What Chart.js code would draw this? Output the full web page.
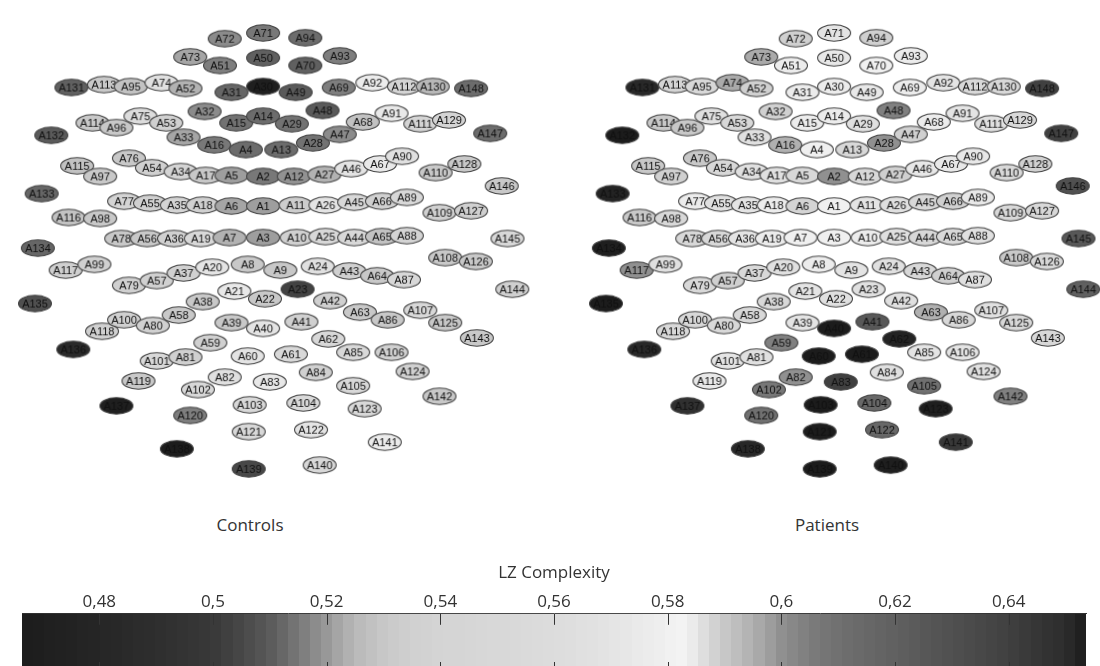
<!DOCTYPE html>
<html>
<head>
<meta charset="utf-8">
<script src="https://cdn.jsdelivr.net/npm/chart.js@4"></script>
<style>
html,body{margin:0;padding:0;background:#fff;}
body{width:1100px;height:666px;overflow:hidden;position:relative;}
canvas{position:absolute;}
.grp{position:absolute;top:514px;transform:translateX(-50%);font:17px "Open Sans",sans-serif;color:#333;line-height:22px;white-space:nowrap;}
</style>
</head>
<body>
<canvas id="controls" width="530" height="500" style="left:0;top:0"></canvas>
<canvas id="patients" width="530" height="500" style="left:571px;top:0"></canvas>
<div class="grp" style="left:250px">Controls</div>
<div class="grp" style="left:827px">Patients</div>
<canvas id="cbar" width="1100" height="110" style="left:0;top:563px"></canvas>
<script>
// ---------- DATA ----------
const electrodes = ['A1','A2','A3','A4','A5','A6','A7','A8','A9','A10',
'A11','A12','A13','A14','A15','A16','A17','A18','A19','A20',
'A21','A22','A23','A24','A25','A26','A27','A28','A29','A30',
'A31','A32','A33','A34','A35','A36','A37','A38','A39','A40',
'A41','A42','A43','A44','A45','A46','A47','A48','A49','A50',
'A51','A52','A53','A54','A55','A56','A57','A58','A59','A60',
'A61','A62','A63','A64','A65','A66','A67','A68','A69','A70',
'A71','A72','A73','A74','A75','A76','A77','A78','A79','A80',
'A81','A82','A83','A84','A85','A86','A87','A88','A89','A90',
'A91','A92','A93','A94','A95','A96','A97','A98','A99','A100',
'A101','A102','A103','A104','A105','A106','A107','A108','A109','A110',
'A111','A112','A113','A114','A115','A116','A117','A118','A119','A120',
'A121','A122','A123','A124','A125','A126','A127','A128','A129','A130',
'A131','A132','A133','A134','A135','A136','A137','A138','A139','A140',
'A141','A142','A143','A144','A145','A146','A147','A148'];

// sensor layout (montage units, A1 at origin, +y = front)
const posX = [0,0,0,-18,-33,-33,-35,-16,18,35,
34,32,19,0,-28,-51,-60,-63,-65,-53,
-30,2,36,57,65,65,64,52,30,0,
-33,-61,-83,-86,-90,-93,-83,-63,-33,0,
40,70,90,95,95,92,80,62,34,0,
-45,-81,-101,-116,-118,-121,-111,-88,-55,-16,
29,68,101,119,124,124,122,104,79,44,
0,-40,-76,-106,-128,-140,-145,-148,-140,-115,
-81,-40,7,55,94,130,147,150,150,145,
134,114,80,44,-138,-153,-170,-170,-176,-145,
-111,-68,-14,42,94,134,164,190,184,180,
164,147,-166,-178,-194,-203,-206,-168,-130,-76,
-15,50,106,156,190,222,217,210,194,177,
-200,-221,-231,-235,-238,-198,-153,-90,-15,59,
127,184,223,260,255,249,237,217];
const posY = [0,31,-33,59,32,0,-33,-61,-67,-33,
1,31,59,94,87,64,32,1,-34,-64,
-89,-97,-87,-63,-32,1,33,66,86,125,
119,99,72,36,1,-34,-70,-100,-122,-128,
-121,-99,-68,-33,4,39,75,100,119,155,
147,123,87,40,3,-34,-78,-114,-143,-157,
-155,-139,-111,-73,-32,5,44,88,124,147,
181,175,156,129,94,50,5,-34,-83,-125,
-158,-179,-184,-174,-153,-119,-77,-31,9,52,
97,129,157,176,125,82,31,-13,-61,-119,
-162,-192,-208,-206,-188,-153,-109,-54,-7,35,
86,125,127,87,42,-12,-67,-131,-183,-219,
-236,-234,-212,-173,-122,-58,-5,44,90,125,
124,74,13,-44,-102,-150,-209,-254,-275,-271,
-247,-199,-138,-87,-34,21,76,123];

// LZ complexity per electrode
const controlsLZ = [0.521,0.515,0.521,0.513,0.521,0.522,0.524,0.530,0.530,0.535,
0.533,0.519,0.513,0.513,0.514,0.515,0.530,0.535,0.550,0.570,
0.573,0.530,0.503,0.565,0.550,0.570,0.524,0.514,0.514,0.470,
0.512,0.518,0.522,0.540,0.540,0.535,0.535,0.530,0.530,0.570,
0.535,0.535,0.535,0.550,0.550,0.570,0.518,0.510,0.510,0.511,
0.516,0.524,0.535,0.535,0.535,0.530,0.535,0.530,0.535,0.570,
0.550,0.550,0.530,0.530,0.528,0.535,0.573,0.528,0.516,0.511,
0.515,0.518,0.522,0.565,0.560,0.530,0.540,0.530,0.535,0.535,
0.535,0.565,0.573,0.535,0.550,0.530,0.550,0.540,0.550,0.565,
0.573,0.577,0.516,0.513,0.528,0.530,0.530,0.530,0.535,0.535,
0.550,0.550,0.550,0.550,0.550,0.535,0.550,0.530,0.535,0.530,
0.540,0.540,0.530,0.530,0.528,0.528,0.535,0.535,0.530,0.516,
0.550,0.570,0.550,0.535,0.530,0.530,0.535,0.530,0.540,0.525,
0.511,0.510,0.512,0.512,0.507,0.485,0.470,0.466,0.505,0.550,
0.577,0.530,0.530,0.535,0.550,0.530,0.513,0.513];
const patientsLZ = [0.580,0.600,0.580,0.580,0.550,0.540,0.580,0.577,0.570,0.577,
0.570,0.550,0.550,0.577,0.577,0.595,0.565,0.577,0.577,0.565,
0.570,0.565,0.565,0.565,0.565,0.565,0.535,0.600,0.565,0.577,
0.577,0.535,0.565,0.565,0.570,0.570,0.550,0.550,0.570,0.6536,
0.625,0.565,0.550,0.550,0.550,0.573,0.535,0.604,0.573,0.573,
0.577,0.535,0.550,0.550,0.565,0.550,0.535,0.550,0.604,0.6536,
0.6536,0.652,0.595,0.535,0.550,0.535,0.573,0.577,0.577,0.580,
0.570,0.535,0.596,0.596,0.565,0.530,0.577,0.550,0.550,0.550,
0.565,0.600,0.640,0.565,0.570,0.550,0.565,0.565,0.573,0.573,
0.570,0.570,0.577,0.535,0.550,0.530,0.535,0.550,0.565,0.550,
0.570,0.607,0.6536,0.615,0.610,0.570,0.565,0.530,0.550,0.550,
0.565,0.550,0.540,0.530,0.530,0.530,0.600,0.550,0.573,0.610,
0.6536,0.615,0.653,0.565,0.550,0.550,0.550,0.535,0.550,0.550,
0.651,0.6536,0.652,0.653,0.6536,0.651,0.648,0.651,0.6536,0.653,
0.644,0.604,0.550,0.620,0.625,0.630,0.640,0.640];

// colour map (value -> gray level)
const cmapValues = [0.4664,0.48,0.49,0.50,0.505,0.51,0.515,0.52,0.525,0.53,0.535,0.54,0.55,0.56,0.57,0.58,0.583,0.586,0.59,0.595,0.60,0.605,0.61,0.62,0.63,0.64,0.65,0.6536];
const cmapGrays  = [28,38,46,56,72,90,120,152,184,200,208,212,216,220,228,240,244,224,200,176,144,124,112,96,80,64,44,28];
const cbMin = 0.4664, cbMax = 0.6536, cbBands = 96;
const tickValues = [0.48,0.50,0.52,0.54,0.56,0.58,0.60,0.62,0.64];
const tickLabels = ['0,48','0,5','0,52','0,54','0,56','0,58','0,6','0,62','0,64'];
const cbTitle = 'LZ Complexity';

// ---------- HELPERS ----------
function cmapGray(v){
  if (v <= cmapValues[0]) return cmapGrays[0];
  for (let i = 1; i < cmapValues.length; i++){
    if (v <= cmapValues[i]){
      const t = (v - cmapValues[i-1]) / (cmapValues[i] - cmapValues[i-1]);
      return Math.round(cmapGrays[i-1] + t * (cmapGrays[i] - cmapGrays[i-1]));
    }
  }
  return cmapGrays[cmapGrays.length-1];
}
function grayCss(g){ return 'rgb(' + g + ',' + g + ',' + g + ')'; }

function ellipseStyle(label, value){
  const c = document.createElement('canvas');
  c.width = 36; c.height = 20;
  const x = c.getContext('2d');
  x.beginPath();
  x.ellipse(18, 10, 16.5, 8.2, 0, 0, Math.PI * 2);
  x.fillStyle = grayCss(cmapGray(value));
  x.fill();
  x.lineWidth = 1.1;
  x.strokeStyle = '#444';
  x.stroke();
  x.fillStyle = '#111';
  x.font = '11px "Liberation Sans", Arial, sans-serif';
  x.textAlign = 'center';
  x.textBaseline = 'middle';
  x.fillText(label, 18, 10.5);
  return c;
}

function buildMap(id, values){
  const order = electrodes.map((_, i) => i).sort((a, b) => posX[a] - posX[b]);
  const pts = order.map(i => ({x: posX[i], y: posY[i]}));
  const styles = order.map(i => ellipseStyle(electrodes[i], values[i]));
  return new Chart(document.getElementById(id), {
    type: 'scatter',
    data: { datasets: [{
      data: pts,
      pointStyle: ctx => styles[ctx.dataIndex] || 'circle',
      pointRadius: 10,
      clip: false
    }]},
    options: {
      responsive: false, animation: false, events: [],
      layout: { padding: 0 },
      plugins: { legend: { display: false }, tooltip: { enabled: false } },
      scales: {
        x: { type: 'linear', min: -263, max: 267, display: false },
        y: { type: 'linear', min: -296, max: 204, display: false }
      }
    }
  });
}

buildMap('controls', controlsLZ);
buildMap('patients', patientsLZ);

// ---------- COLOUR BAR ----------
let gradCache = null;
function barGradient(chart){
  const a = chart.chartArea;
  if (!a) return '#888';
  if (gradCache) return gradCache;
  const xs = chart.scales.x;
  const x0 = xs.getPixelForValue(cbMin), x1 = xs.getPixelForValue(cbMax);
  const g = chart.ctx.createLinearGradient(x0, 0, x1, 0);
  for (let i = 0; i < cbBands; i++){
    const v = cbMin + (i + 0.5) * (cbMax - cbMin) / cbBands;
    const c = grayCss(cmapGray(v));
    g.addColorStop(i / cbBands, c);
    g.addColorStop((i + 1) / cbBands, c);
  }
  gradCache = g;
  return g;
}

const innerTicks = {
  id: 'innerTicks',
  afterDatasetsDraw(chart){
    const {ctx, chartArea: a} = chart;
    const xs = chart.scales.x;
    ctx.save();
    ctx.strokeStyle = '#333';
    ctx.lineWidth = 1;
    tickValues.forEach(v => {
      const px = Math.round(xs.getPixelForValue(v)) + 0.5;
      ctx.beginPath();
      ctx.moveTo(px, a.top); ctx.lineTo(px, a.top + 11);
      ctx.moveTo(px, a.bottom - 11); ctx.lineTo(px, a.bottom);
      ctx.stroke();
    });
    ctx.restore();
  }
};

new Chart(document.getElementById('cbar'), {
  type: 'bar',
  data: { labels: [''], datasets: [{
    data: [[cbMin, cbMax]],
    backgroundColor: ctx => barGradient(ctx.chart),
    borderWidth: 0,
    barPercentage: 1,
    categoryPercentage: 1
  }]},
  options: {
    indexAxis: 'y',
    responsive: false, animation: false, events: [],
    layout: { padding: { left: 22, right: 14, top: 0, bottom: 0 } },
    plugins: { legend: { display: false }, tooltip: { enabled: false } },
    scales: {
      x: {
        type: 'linear', position: 'top', min: cbMin, max: cbMax, z: 1,
        grid: { display: false, drawTicks: false },
        border: { display: true, color: '#333', width: 1 },
        afterBuildTicks: s => { s.ticks = tickValues.map(v => ({ value: v })); },
        ticks: {
          callback: (v, i) => tickLabels[i],
          color: '#333', padding: 1, maxRotation: 0, autoSkip: false,
          font: { family: '"Open Sans", sans-serif', size: 17 }
        },
        title: {
          display: true, text: cbTitle, color: '#333',
          font: { family: '"Open Sans", sans-serif', size: 17 },
          padding: { top: 0, bottom: 8 }
        }
      },
      y: { display: false }
    }
  },
  plugins: [innerTicks]
});
</script>
</body>
</html>
